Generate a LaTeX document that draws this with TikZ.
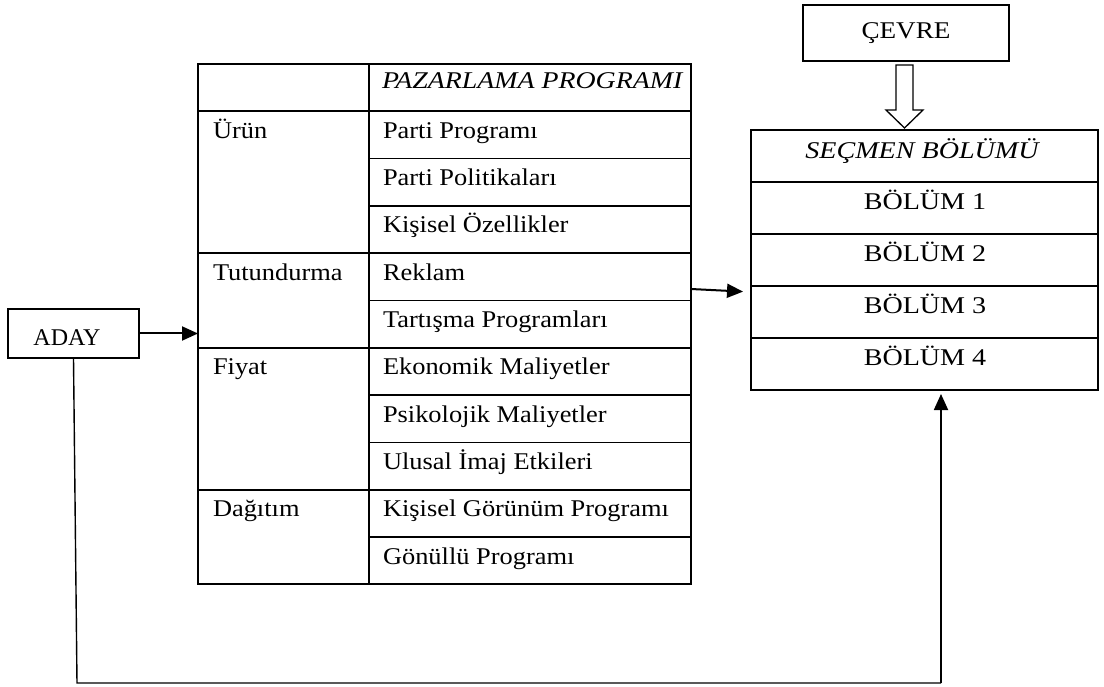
\documentclass[tikz,border=0pt]{standalone}
\usepackage{fontspec}
\setmainfont{Liberation Serif}
\usetikzlibrary{arrows.meta,calc}
% horizontally widened text
\newcommand{\hs}[2]{\scalebox{#1}[1]{#2}}

\begin{document}
\begin{tikzpicture}[x=1pt,y=-1pt,
  every node/.style={inner sep=0pt,outer sep=0pt},
  txt/.style={font=\fontsize{24}{28}\selectfont},
  boxframe/.style={draw,line width=2pt},
  rule/.style={line width=1.8pt},
  link/.style={line width=1.4pt},
  arr/.style={line width=2pt,-{Triangle[length=16pt,width=14pt]}}]
\useasboundingbox (0,0) rectangle (1104,687);

% ---------- marketing programme table ----------
\node[boxframe,anchor=north west,minimum width=493pt,minimum height=520.3pt] (prog) at (198,64) {};
\draw[rule] (369,64) -- (369,584.3);
\foreach \i in {1,...,10}{
  \draw[rule] (369,{64+47.3*\i}) -- (691,{64+47.3*\i});
}
\foreach \i in {1,4,6,9}{
  \draw[rule] (198,{64+47.3*\i}) -- (369,{64+47.3*\i});
}
\node[txt,anchor=base west] (head) at (382,89) {\hs{1.16}{\itshape PAZARLAMA PROGRAMI}};

\foreach \i/\t in {1/Parti Programı,2/Parti Politikaları,3/Kişisel Özellikler,
  4/Reklam,5/Tartışma Programları,6/Ekonomik Maliyetler,7/Psikolojik Maliyetler,
  8/Ulusal İmaj Etkileri,9/Kişisel Görünüm Programı,10/Gönüllü Programı}{
  \node[txt,anchor=base west] (item\i) at (383,{64+47.3*\i+27}) {\hs{1.1}{\t}};
}
\foreach \i/\t/\n in {1/Ürün/urun,4/Tutundurma/tutun,6/Fiyat/fiyat,9/Dağıtım/dagit}{
  \node[txt,anchor=base west] (\n) at (213,{64+47.3*\i+27}) {\hs{1.1}{\t}};
}

% ---------- candidate ----------
\node[boxframe,anchor=north west,minimum width=131pt,minimum height=49pt] (aday) at (8,309) {};
\node[txt,anchor=base] (adaytxt) at (67,345) {ADAY};

% ---------- environment ----------
\node[boxframe,anchor=north west,minimum width=206pt,minimum height=56pt] (cevre) at (803,5) {};
\node[txt,anchor=base] (cevretxt) at (906,39) {\hs{1.13}{ÇEVRE}};

% ---------- voter segments ----------
\node[boxframe,anchor=north west,minimum width=347pt,minimum height=260pt] (sec) at (751,130) {};
\foreach \i in {1,...,4}{
  \draw[rule] (751,{130+52*\i}) -- (1098,{130+52*\i});
}
\node[txt,anchor=base] (sectxt) at (922,159) {\hs{1.17}{\itshape SEÇMEN BÖLÜMÜ}};
\foreach \i in {1,...,4}{
  \node[txt,anchor=base] (bolum\i) at (925,{130+52*\i+28}) {\hs{1.17}{BÖLÜM \i}};
}

% ---------- hollow arrow from the environment ----------
\draw[line width=1.3pt] (896,65) -- (913,65) -- (913,110) -- (923,110) -- (904.5,128)
  -- (886,110) -- (896,110) -- cycle;

% ---------- connectors ----------
\draw[arr] (aday.east) -- (aday.east -| prog.west);

\coordinate (out) at (691,289);
\coordinate (in) at (751,292);
\draw[arr,shorten >=8pt] (out) -- (in);

\coordinate (bl) at (77,683);
\coordinate (br) at (941,683);
\draw[link] (aday.south) -- (bl) -- (br);
\draw[arr,line width=1.8pt,shorten >=4pt] (br) -- (br |- sec.south);
\end{tikzpicture}
\end{document}
